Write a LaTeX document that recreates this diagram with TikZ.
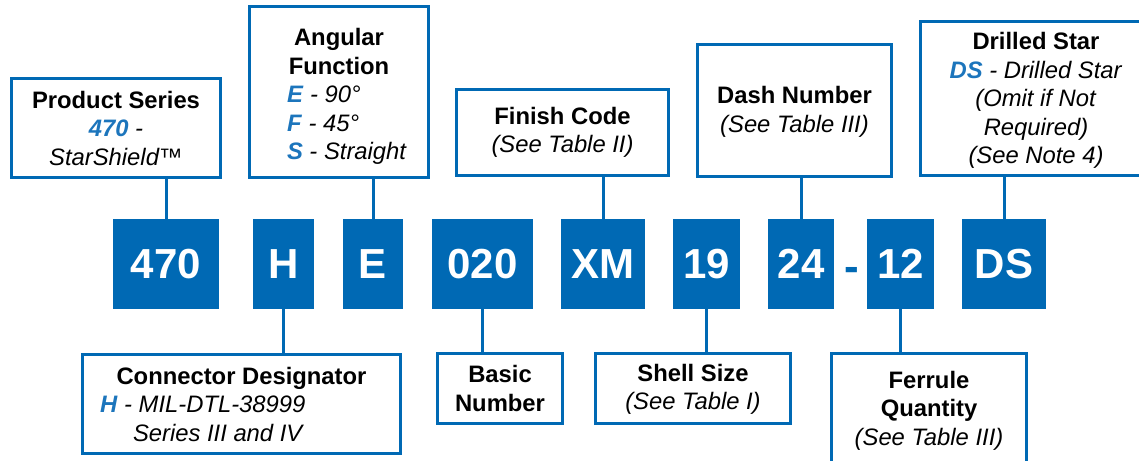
\documentclass[tikz,border=0pt]{standalone}
\usepackage{fontspec}
\setmainfont{Liberation Sans}
\definecolor{pblue}{HTML}{0069B4}
\definecolor{cblue}{HTML}{1C75BC}
\newcommand{\cd}[1]{\textcolor{cblue}{\textbf{\textit{#1}}}}
\begin{document}
\begin{tikzpicture}[x=1pt,y=-1pt,
  lbl/.style={draw=pblue, line width=3pt, fill=white, align=center, inner sep=0pt,
    font=\fontsize{23.8}{28.5}\selectfont},
  codebox/.style={fill=pblue, text=white, inner sep=0pt, minimum height=90pt,
    font=\fontsize{42}{42}\selectfont\bfseries},
  conn/.style={draw=pblue, line width=3pt}]
\useasboundingbox (0,0) rectangle (1139,460);
\clip (0,0) rectangle (1139,460);

% code boxes
\node[codebox, minimum width=106pt] (b470) at (166,264) {470};
\node[codebox, minimum width=61pt] (bH) at (283.5,264) {H};
\node[codebox, minimum width=60pt] (bE) at (373,264) {E};
\node[codebox, minimum width=101pt] (b020) at (482.5,264) {020};
\node[codebox, minimum width=84pt] (bXM) at (603,264) {XM};
\node[codebox, minimum width=67pt] (b19) at (706.5,264) {19};
\node[codebox, minimum width=66pt] (b24) at (801,264) {24};
\node[text=pblue, inner sep=0pt, anchor=base, font=\fontsize{44}{44}\selectfont\bfseries] (dash) at (852,281) {-};
\node[codebox, minimum width=67pt] (b12) at (900.5,264) {12};
\node[codebox, minimum width=84pt] (bDS) at (1004,264) {DS};

% top labels
\node[lbl, minimum width=209pt, minimum height=99pt] (ps) at (116,128)
  {\textbf{Product Series}\\ \cd{470} \textit{-}\\ \textit{StarShield™}};
\node[lbl, minimum width=179pt, minimum height=171pt] (ang) at (339,92)
  {\rule{0pt}{26pt}\textbf{Angular}\\ \textbf{Function}\\
   \makebox[104pt][l]{\cd{E} \textit{- 90°}}\\
   \makebox[104pt][l]{\cd{F} \textit{- 45°}}\\
   \makebox[104pt][l]{\cd{S} \textit{- Straight}}};
\node[lbl, minimum width=212pt, minimum height=86pt] (fin) at (562.5,132.5)
  {\textbf{Finish Code}\\ \textit{(See Table II)}};
\node[lbl, minimum width=194pt, minimum height=132pt] (dn) at (794.5,110.5)
  {\rule{0pt}{20pt}\textbf{Dash Number}\\ \textit{(See Table III)}};
\node[lbl, minimum width=231pt, minimum height=154pt] (ds) at (1036,98.5)
  {\rule{0pt}{21pt}\textbf{Drilled Star}\\ \cd{DS} \textit{- Drilled Star}\\ \textit{(Omit if Not}\\
   \textit{Required)}\\ \textit{(See Note 4)}};

% bottom labels
\node[lbl, minimum width=318pt, minimum height=99pt] (con) at (241.5,404)
  {\textbf{Connector Designator}\\
   \makebox[283pt][l]{\cd{H} \textit{- MIL-DTL-38999}}\\
   \makebox[283pt][l]{\hspace{33pt}\textit{Series III and IV}}};
\node[lbl, minimum width=125pt, minimum height=70pt] (bas) at (500,388.5)
  {\textbf{Basic}\\ \textbf{Number}};
\node[lbl, minimum width=195pt, minimum height=70pt] (sh) at (693,388.5)
  {\rule{0pt}{19pt}\textbf{Shell Size}\\ \textit{(See Table I)}};
\node[lbl, minimum width=195pt, minimum height=109pt] (fer) at (929,408)
  {\rule{0pt}{22pt}\textbf{Ferrule}\\ \textbf{Quantity}\\ \textit{(See Table III)}};

% connectors
\draw[conn] (b470.north) -- (b470.north |- ps.south);
\draw[conn] (bE.north) -- (bE.north |- ang.south);
\draw[conn] (bXM.north) -- (bXM.north |- fin.south);
\draw[conn] (b24.north) -- (b24.north |- dn.south);
\draw[conn] (bDS.north) -- (bDS.north |- ds.south);
\draw[conn] (bH.south) -- (bH.south |- con.north);
\draw[conn] (b020.south) -- (b020.south |- bas.north);
\draw[conn] (b19.south) -- (b19.south |- sh.north);
\draw[conn] (b12.south) -- (b12.south |- fer.north);
\end{tikzpicture}
\end{document}
